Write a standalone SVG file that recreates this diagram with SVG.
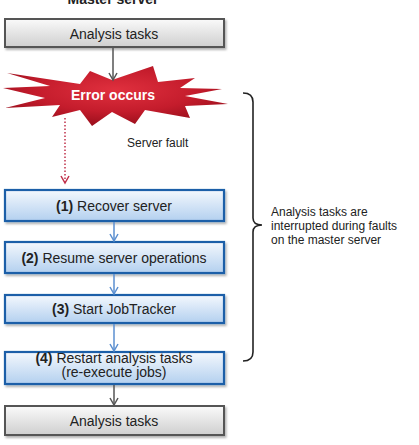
<svg xmlns="http://www.w3.org/2000/svg" width="419" height="445" viewBox="0 0 419 445">
<style>
.t{font-family:"Liberation Sans",Arial,sans-serif;font-size:14px;fill:#222;text-anchor:middle}
.b{font-weight:bold}
.s{font-family:"Liberation Sans",Arial,sans-serif;font-size:12px;fill:#222}
.gray{fill:url(#gg);stroke:#555;stroke-width:2}
.blue{fill:url(#bg);stroke:#1f5fa8;stroke-width:2.2}
.cb{stroke:#5b8fd0;stroke-width:1.5;fill:none;marker-end:url(#ab)}
.cg{stroke:#555;stroke-width:1.5;fill:none;marker-end:url(#ag)}
</style>
<defs>
<linearGradient id="gg" x1="0" y1="0" x2="0" y2="1"><stop offset="0" stop-color="#fafafa"/><stop offset="1" stop-color="#cfcfcf"/></linearGradient>
<linearGradient id="bg" x1="0" y1="0" x2="0" y2="1"><stop offset="0" stop-color="#f4f8fd"/><stop offset="1" stop-color="#b3d0ef"/></linearGradient>
<radialGradient id="rg" cx="0.5" cy="0.4" r="0.6"><stop offset="0" stop-color="#e0303e"/><stop offset="0.6" stop-color="#c41c2c"/><stop offset="1" stop-color="#9a0f1c"/></radialGradient>
<filter id="sh" x="-5%" y="-20%" width="110%" height="150%"><feDropShadow dx="1.5" dy="2" stdDeviation="1.2" flood-color="#000" flood-opacity="0.3"/></filter>
<marker id="ab" markerWidth="10" markerHeight="10" refX="8" refY="5" orient="auto" markerUnits="userSpaceOnUse"><path d="M1,1 L8,5 L1,9" fill="none" stroke="#5b8fd0" stroke-width="1.5"/></marker>
<marker id="ag" markerWidth="10" markerHeight="10" refX="8" refY="5" orient="auto" markerUnits="userSpaceOnUse"><path d="M1,1 L8,5 L1,9" fill="none" stroke="#555" stroke-width="1.5"/></marker>
<marker id="ar" markerWidth="10" markerHeight="10" refX="8" refY="5" orient="auto" markerUnits="userSpaceOnUse"><path d="M1,1 L8,5 L1,9" fill="none" stroke="#c0304a" stroke-width="1.5"/></marker>
</defs>
<text class="t b" x="113" y="3.5">Master server</text>
<g id="n-top">
<rect class="gray" x="5" y="19" width="219" height="28" filter="url(#sh)"/>
<text class="t" x="114" y="38.5">Analysis tasks</text>
</g>
<g id="n-error">
<polygon fill="url(#rg)" points="7,73 80,84 90,71 112,80 153,66 158,82 195,78 180,88 222,89 185,96 228,104 185,106 190,118 145,110 135,124 112,112 92,126 80,110 52,117 60,105 5,108 45,98 3,88 50,86"/>
<text class="t b" x="113" y="100" style="fill:#fff">Error occurs</text>
</g>
<g id="n-fault"><text class="s" x="127" y="147">Server fault</text></g>
<g id="n1">
<rect class="blue" x="5" y="190" width="219" height="31" filter="url(#sh)"/>
<text class="t" x="114" y="210.5"><tspan class="b">(1)</tspan> Recover server</text>
</g>
<g id="n2">
<rect class="blue" x="5" y="242" width="219" height="31" filter="url(#sh)"/>
<text class="t" x="114" y="262.5"><tspan class="b">(2)</tspan> Resume server operations</text>
</g>
<g id="n3">
<rect class="blue" x="5" y="295" width="219" height="28" filter="url(#sh)"/>
<text class="t" x="114" y="314"><tspan class="b">(3)</tspan> Start JobTracker</text>
</g>
<g id="n4">
<rect class="blue" x="5" y="352" width="219" height="32" filter="url(#sh)"/>
<text class="t" x="114" y="362.5"><tspan class="b">(4)</tspan> Restart analysis tasks</text>
<text class="t" x="114" y="377">(re-execute jobs)</text>
</g>
<g id="n-bottom">
<rect class="gray" x="5" y="406" width="219" height="29" filter="url(#sh)"/>
<text class="t" x="114" y="425.5">Analysis tasks</text>
</g>
<g id="n-note">
<text class="s" x="271" y="216">Analysis tasks are</text>
<text class="s" x="271" y="230">interrupted  during faults</text>
<text class="s" x="271" y="244">on the master server</text>
</g>
<g id="connectors">
<path class="cg" d="M113,48 V80"/>
<path d="M65,118 V183" fill="none" stroke="#c0304a" stroke-width="1.5" stroke-dasharray="1.5,2" marker-end="url(#ar)"/>
<path class="cb" d="M114,222 V241"/>
<path class="cb" d="M114,274 V294"/>
<path class="cb" d="M114,324 V351"/>
<path class="cg" d="M114,385 V405"/>
<path d="M243,93 Q253,93 253,102 V218 Q253,225 262,225 Q253,225 253,232 V352 Q253,361 243,361" fill="none" stroke="#222" stroke-width="1.6"/>
</g>
</svg>
